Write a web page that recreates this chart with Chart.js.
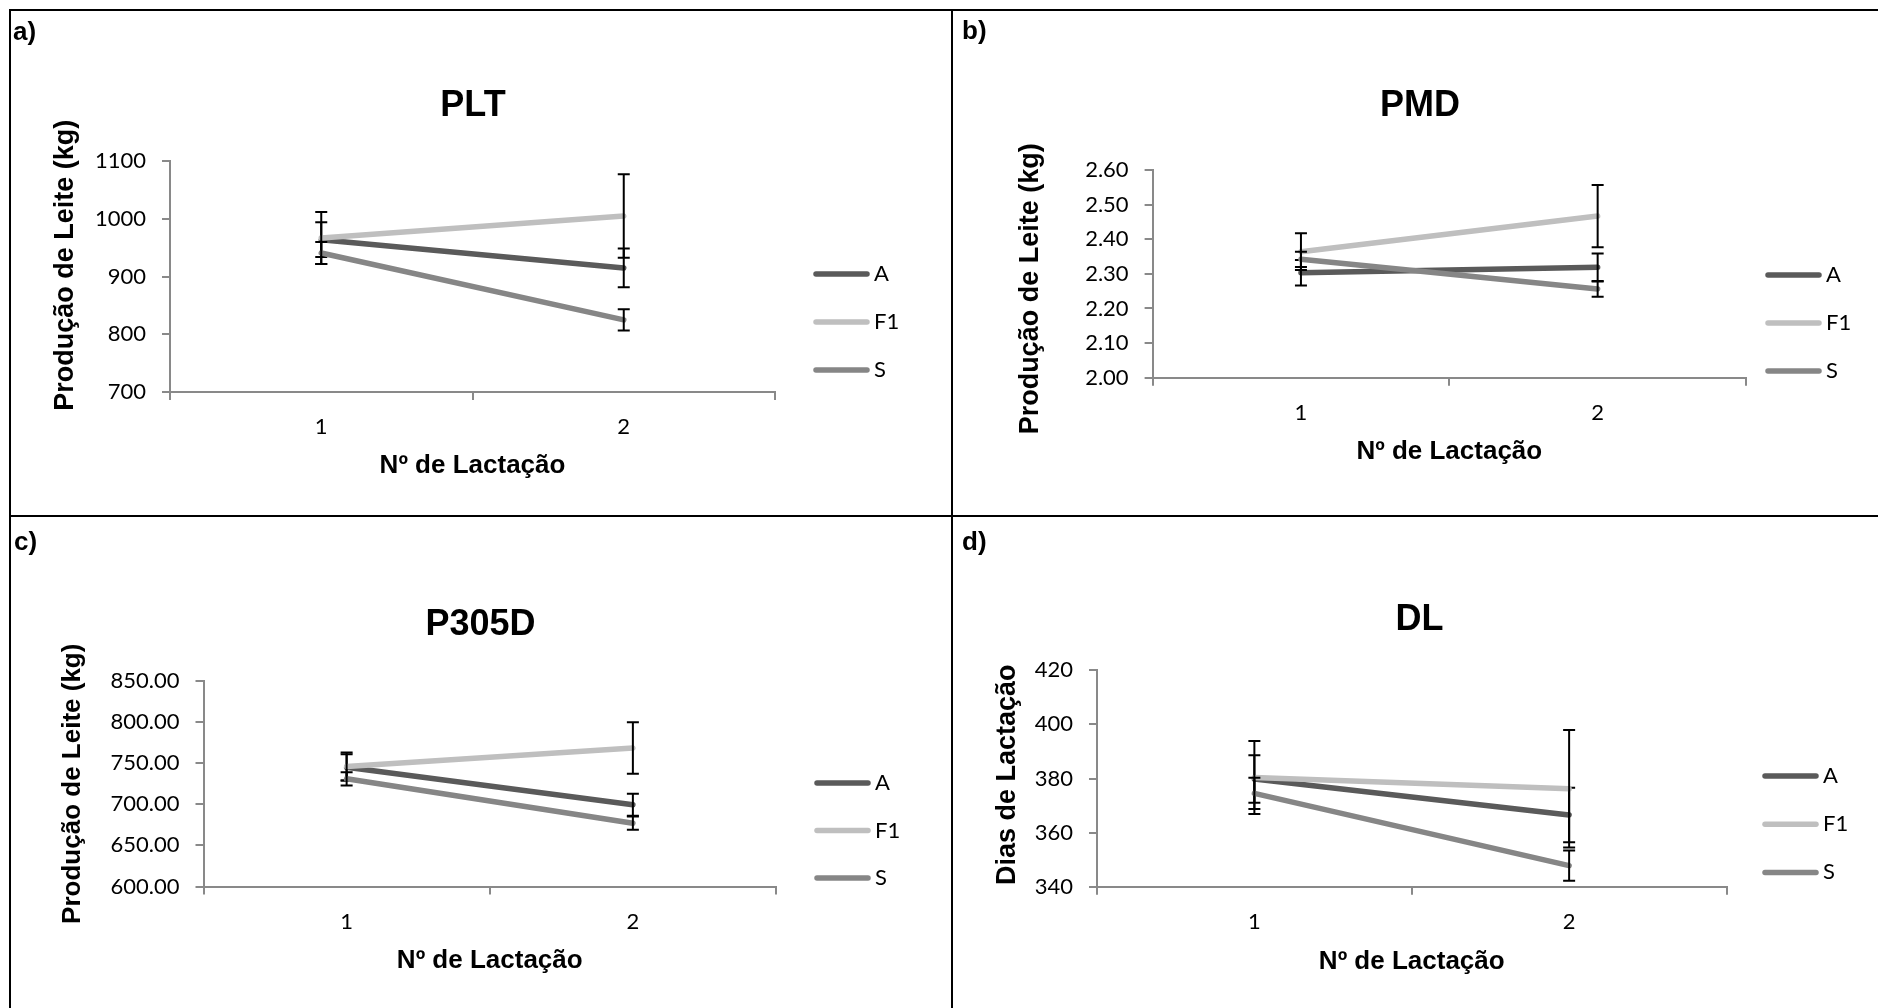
<!DOCTYPE html>
<html>
<head>
<meta charset="utf-8">
<script src="https://cdn.jsdelivr.net/npm/chart.js@4.4.1/dist/chart.umd.min.js"></script>
<style>
  body { margin: 0; background: #fff; width: 1878px; height: 1008px; overflow: hidden; position: relative; }
  canvas { position: absolute; }
  .rule { position: absolute; background: #000; }
  .tag { position: absolute; font: bold 26px "Liberation Sans", Arial, sans-serif; line-height: 26px; color: #000; }
</style>
</head>
<body>
<canvas id="plt" style="left:11px;top:11px" width="938" height="504"></canvas>
<canvas id="pmd" style="left:951px;top:11px" width="927" height="504"></canvas>
<canvas id="p305" style="left:11px;top:517px" width="938" height="491"></canvas>
<canvas id="dl" style="left:951px;top:517px" width="927" height="491"></canvas>

<div class="rule" style="left:9px;top:9px;width:1869px;height:2px"></div>
<div class="rule" style="left:9px;top:9px;width:2px;height:999px"></div>
<div class="rule" style="left:951px;top:9px;width:2px;height:999px"></div>
<div class="rule" style="left:9px;top:515px;width:1869px;height:2px"></div>

<div class="tag" style="left:13px;top:18px">a)</div>
<div class="tag" style="left:962px;top:17px">b)</div>
<div class="tag" style="left:14px;top:528px">c)</div>
<div class="tag" style="left:962px;top:528px">d)</div>

<script>
// lactation number (x categories) and breed groups
var categories = ['1', '2']
var seriesNames = ['A', 'F1', 'S']
var seriesColors = ['#5a5a5a', '#bfbfbf', '#868686']

// a) PLT - total milk yield (kg)
var pltA = [964, 915]
var pltF1 = [967, 1005]
var pltS = [941, 825]
var pltErrA = [30, 33.5]
var pltErrF1 = [45, 72.5]
var pltErrS = [19, 18.5]
var pltTicks = [700, 800, 900, 1000, 1100]

// b) PMD - mean daily yield (kg)
var pmdA = [2.303, 2.319]
var pmdF1 = [2.364, 2.467]
var pmdS = [2.342, 2.256]
var pmdErrA = [0.037, 0.04]
var pmdErrF1 = [0.053, 0.09]
var pmdErrS = [0.022, 0.022]
var pmdTicks = [2.0, 2.1, 2.2, 2.3, 2.4, 2.5, 2.6]

// c) P305D - yield at 305 days (kg)
var p305A = [745, 699.4]
var p305F1 = [746, 768.5]
var p305S = [731, 677]
var p305ErrA = [16, 13.4]
var p305ErrF1 = [17, 31.3]
var p305ErrS = [8, 8.1]
var p305Ticks = [600, 650, 700, 750, 800, 850]

// d) DL - lactation length (days)
var dlA = [379.8, 366.5]
var dlF1 = [380.4, 376.2]
var dlS = [374.5, 347.8]
var dlErrA = [8.8, 10.1]
var dlErrF1 = [13.5, 21.7]
var dlErrS = [5.8, 5.6]
var dlTicks = [340, 360, 380, 400, 420]

var AXIS = '#898989'
var SANS = "'Liberation Sans', Arial, sans-serif"
var LINE_W = 5.5

// vertical error bars, drawn right after each series like Excel does
var errorBars = {
  id: 'errorBars',
  afterDatasetDraw: function(chart, args) {
    var ds = chart.data.datasets[args.index]
    if (!ds.errors) return
    var y = chart.scales.y, ctx = chart.ctx
    ctx.save()
    ctx.strokeStyle = '#000'
    ctx.lineWidth = 2
    args.meta.data.forEach(function(pt, i) {
      var top = y.getPixelForValue(ds.data[i] + ds.errors[i])
      var bot = y.getPixelForValue(ds.data[i] - ds.errors[i])
      ctx.beginPath()
      ctx.moveTo(pt.x, top); ctx.lineTo(pt.x, bot)
      ctx.moveTo(pt.x - 6, top); ctx.lineTo(pt.x + 6, top)
      ctx.moveTo(pt.x - 6, bot); ctx.lineTo(pt.x + 6, bot)
      ctx.stroke()
    })
    ctx.restore()
  }
}

// legend on the right: short thick line + label
var sideLegend = {
  id: 'sideLegend',
  afterDraw: function(chart, args, o) {
    var ctx = chart.ctx
    ctx.save()
    chart.data.datasets.forEach(function(ds, i) {
      var y = o.y + i * o.dy
      ctx.strokeStyle = ds.borderColor
      ctx.lineWidth = LINE_W
      ctx.lineCap = 'round'
      ctx.beginPath()
      ctx.moveTo(o.tx - 7 - 51, y)
      ctx.lineTo(o.tx - 7, y)
      ctx.stroke()
      ctx.fillStyle = '#000'
      ctx.font = '22px Lato'
      ctx.textBaseline = 'middle'
      ctx.fillText(ds.label, o.tx, y)
    })
    ctx.restore()
  }
}

function makeChart(id, c, g) {
  var datasets = [c.a, c.f1, c.s].map(function(vals, i) {
    return {
      label: seriesNames[i],
      data: vals,
      errors: c.errs[i],
      borderColor: seriesColors[i],
      borderWidth: LINE_W,
      borderCapStyle: 'round',
      pointRadius: 0,
      order: 3 - i
    }
  })
  return new Chart(document.getElementById(id), {
    type: 'line',
    data: { labels: categories, datasets: datasets },
    plugins: [errorBars, sideLegend],
    options: {
      responsive: false,
      animation: false,
      devicePixelRatio: 1,
      layout: { autoPadding: false, padding: { left: g.pl, right: g.pr, top: 0, bottom: 0 } },
      plugins: {
        legend: { display: false },
        tooltip: { enabled: false },
        title: {
          display: true, text: c.title, color: '#000',
          font: { family: SANS, size: 36, weight: 'bold' },
          padding: { top: g.tpt, bottom: g.tpb }
        },
        sideLegend: g.leg
      },
      scales: {
        x: {
          offset: true,
          grid: { offset: true, drawOnChartArea: false, color: AXIS, lineWidth: 2, tickLength: 8 },
          border: { color: AXIS, width: 2 },
          ticks: { color: '#000', font: { family: 'Lato', size: 22 }, padding: 14 },
          title: {
            display: true, text: 'Nº de Lactação', color: '#000',
            font: { family: SANS, size: 26, weight: 'bold' },
            padding: { top: 0, bottom: g.xtpb }
          },
          afterFit: function(s) { s.height = g.xH }
        },
        y: {
          min: c.ticks[0],
          max: c.ticks[c.ticks.length - 1],
          afterBuildTicks: function(s) { s.ticks = c.ticks.map(function(v) { return { value: v } }) },
          grid: { drawOnChartArea: false, color: AXIS, lineWidth: 2, tickLength: 8 },
          border: { color: AXIS, width: 2 },
          ticks: {
            color: '#000', font: { family: 'Lato', size: 22 }, padding: 16,
            callback: function(v) { return Number(v).toFixed(c.dec) }
          },
          title: {
            // the padding spaces nudge the rotated title along the axis, as in the original
            display: true, text: g.yPre + c.yTitle + g.yPost, color: '#000',
            font: { family: SANS, size: g.ySize, weight: 'bold' },
            padding: { top: g.ytpt, bottom: 0 }
          },
          afterFit: function(s) { s.width = g.yW }
        },
        // empty box that keeps room for the legend on the right
        yRight: {
          axis: 'y', type: 'linear', position: 'right',
          grid: { display: false }, border: { display: false }, ticks: { display: false },
          afterFit: function(s) { s.width = g.rW }
        }
      }
    }
  })
}

makeChart('plt',
  { title: 'PLT', yTitle: 'Produção de Leite (kg)', a: pltA, f1: pltF1, s: pltS,
    errs: [pltErrA, pltErrF1, pltErrS], ticks: pltTicks, dec: 0 },
  { pl: 0, pr: 14, yW: 159, rW: 160, tpt: 73, tpb: 34, xH: 123, xtpb: 33.4, ytpt: 38.8, ySize: 27,
    yPre: '   ', yPost: '', leg: { tx: 863, y: 263, dy: 48 } })

makeChart('pmd',
  { title: 'PMD', yTitle: 'Produção de Leite (kg)', a: pmdA, f1: pmdF1, s: pmdS,
    errs: [pmdErrA, pmdErrF1, pmdErrS], ticks: pmdTicks, dec: 2 },
  { pl: 11, pr: 0, yW: 190.6, rW: 132, tpt: 73, tpb: 42.8, xH: 137.3, xtpb: 47.7, ytpt: 52.8, ySize: 27,
    yPre: '', yPost: '    ', leg: { tx: 875, y: 264, dy: 48 } })

makeChart('p305',
  { title: 'P305D', yTitle: 'Produção de Leite (kg)', a: p305A, f1: p305F1, s: p305S,
    errs: [p305ErrA, p305ErrF1, p305ErrS], ticks: p305Ticks, dec: 2 },
  { pl: 1, pr: 0, yW: 191.5, rW: 173, tpt: 86.4, tpb: 34.4, xH: 121.5, xtpb: 31.4, ytpt: 45.6, ySize: 26,
    yPre: '', yPost: '', leg: { tx: 864, y: 266, dy: 47.5 } })

makeChart('dl',
  { title: 'DL', yTitle: 'Dias de Lactação', a: dlA, f1: dlF1, s: dlS,
    errs: [dlErrA, dlErrF1, dlErrS], ticks: dlTicks, dec: 0 },
  { pl: 10, pr: 0, yW: 136, rW: 151.5, tpt: 81.4, tpb: 28.7, xH: 121.3, xtpb: 30.4, ytpt: 30.3, ySize: 27,
    yPre: ' ', yPost: '', leg: { tx: 872, y: 259, dy: 48.2 } })
</script>
</body>
</html>
